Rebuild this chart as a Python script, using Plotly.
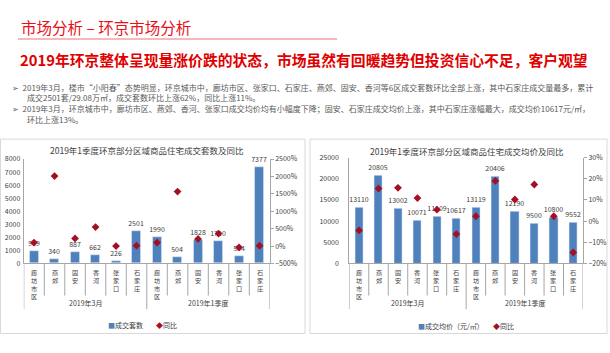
import plotly.graph_objects as go

W, H = 610, 353

# ---------------- data ----------------
groups = ["2019年3月", "2019年1季度"]
districts = ["廊坊市区", "燕郊", "固安", "香河", "张家口", "石家庄"]
categories = districts + districts

deal_units = [969, 340, 887, 662, 226, 2501, 1990, 504, 1828, 1710, 564, 7377]
units_yoy = [100, 2010, 220, 545, 0, 11, 100, 1565, 205, 360, -35, 9]

avg_price = [13110, 20805, 13002, 10071, 11109, 10617, 13119, 20406, 12190, 9500, 10800, 9552]
price_yoy = [-4.4, 15.4, 15.7, 10.9, 5.4, -6.1, 2.3, 19.0, 10.2, 17.3, 2.3, -14.8]

page_title = "市场分析 – 环京市场分析"
headline = "2019年环京整体呈现量涨价跌的状态，市场虽然有回暖趋势但投资信心不足，客户观望"
bullets = [
    "➢  2019年3月，楼市“小阳春”态势明显，环京城市中，廊坊市区、张家口、石家庄、燕郊、固安、香河等6区成交套数环比全部上涨，其中石家庄成交量最多，累计",
    "成交2501套/29.08万㎡，成交套数环比上涨62%，同比上涨11%。",
    "➢  2019年3月，环京城市中，廊坊市区、燕郊、香河、张家口成交均价均有小幅度下降；固安、石家庄成交均价上涨，其中石家庄涨幅最大，成交均价10617元/㎡，",
    "环比上涨13%。",
]
chart1_title = "2019年1季度环京部分区域商品住宅成交套数及同比"
chart2_title = "2019年1季度环京部分区域商品住宅成交均价及同比"
legend1 = ["成交套数", "同比"]
legend2 = ["成交均价（元/㎡）", "同比"]

# ---------------- styling ----------------
FONT = "Noto Sans CJK SC"
BAR = "#4F81BD"
DOT = "#A50F24"
TXT = "#404040"
AX = "#A6A6A6"
RED = "#E8101A"


def px(x):
    return x / W


def py(y):
    return 1 - y / H


xs = list(range(len(categories)))

fig = go.Figure()

# left chart
fig.add_trace(go.Bar(x=xs, y=deal_units, width=0.42, marker_color=BAR,
                     text=[str(v) for v in deal_units], textposition="outside", constraintext="none",
                     textfont=dict(size=7, color=TXT, family=FONT), cliponaxis=False,
                     xaxis="x", yaxis="y", showlegend=False))
fig.add_trace(go.Scatter(x=xs, y=units_yoy, mode="markers",
                         marker=dict(symbol="diamond", size=6, color=DOT),
                         xaxis="x", yaxis="y2", showlegend=False, cliponaxis=False))
# right chart
fig.add_trace(go.Bar(x=xs, y=avg_price, width=0.42, marker_color=BAR,
                     text=[str(v) for v in avg_price], textposition="outside", constraintext="none",
                     textfont=dict(size=7, color=TXT, family=FONT), cliponaxis=False,
                     xaxis="x2", yaxis="y3", showlegend=False))
fig.add_trace(go.Scatter(x=xs, y=price_yoy, mode="markers",
                         marker=dict(symbol="diamond", size=6, color=DOT),
                         xaxis="x2", yaxis="y4", showlegend=False, cliponaxis=False))

n = len(categories)
axfont = dict(size=7, color=TXT, family=FONT)
common_x = dict(range=[-0.5, n - 0.5], showticklabels=False, showgrid=False, zeroline=False,
                showline=True, linecolor=AX, linewidth=1, ticks="", fixedrange=True)
common_y = dict(showgrid=False, zeroline=False, showline=True, linecolor=AX, linewidth=1,
                tickfont=axfont, fixedrange=True, tickformat="d")

L_top, R_top, bot = 157.5, 156.0, 265.0
fig.update_layout(
    width=W, height=H, autosize=False,
    margin=dict(l=0, r=0, t=0, b=0),
    paper_bgcolor="white", plot_bgcolor="rgba(0,0,0,0)",
    font=dict(family=FONT, color=TXT),
    bargap=0,
    xaxis=dict(domain=[px(23.8), px(269.8)], anchor="y", **common_x),
    yaxis=dict(domain=[py(bot), py(L_top)], anchor="x", range=[0, 8000], dtick=1000,
               ticks="", ticklabelstandoff=1, **common_y),
    yaxis2=dict(overlaying="y", side="right", anchor="x", range=[-500, 2500], dtick=500,
                ticksuffix="%", ticks="outside", ticklen=3, tickcolor=AX, **common_y),
    xaxis2=dict(domain=[px(349.3), px(583)], anchor="y3", **common_x),
    yaxis3=dict(domain=[py(bot), py(R_top)], anchor="x2", range=[0, 25000], dtick=5000,
                ticks="", ticklabelstandoff=8, **common_y),
    yaxis4=dict(overlaying="y3", side="right", anchor="x2", range=[-20, 30], dtick=10,
                ticksuffix="%", ticks="outside", ticklen=3, tickcolor=AX, **common_y),
)

shapes = []
annotations = []

# panel borders
shapes.append(dict(type="rect", xref="paper", yref="paper", x0=px(0.5), x1=px(305), y0=py(337), y1=py(137),
                   line=dict(color="#D9D9D9", width=1), layer="below"))
shapes.append(dict(type="rect", xref="paper", yref="paper", x0=px(310), x1=px(607), y0=py(337), y1=py(137),
                   line=dict(color="#D9D9D9", width=1), layer="below"))

# title underline
shapes.append(dict(type="line", xref="paper", yref="paper", x0=px(18), x1=px(337), y0=py(34), y1=py(34),
                   line=dict(color="#F2A0A0", width=1.5)))

annotations.append(dict(xref="paper", yref="paper", x=px(19), y=py(22), xanchor="left", yanchor="middle",
                        text=page_title, showarrow=False, font=dict(size=15.5, color=RED, family=FONT)))
annotations.append(dict(xref="paper", yref="paper", x=px(18), y=py(55), xanchor="left", yanchor="middle",
                        text="<b>" + headline + "</b>", showarrow=False,
                        font=dict(size=14.8, color="#E00000", family=FONT)))

bullet_pos = [(10, 83.5), (25, 94.5), (10, 105.5), (25, 116.5)]
for (bx, by), t in zip(bullet_pos, bullets):
    annotations.append(dict(xref="paper", yref="paper", x=px(bx), y=py(by), xanchor="left", yanchor="middle",
                            text=t, showarrow=False, font=dict(size=8.0, color="#595959", family=FONT)))

# chart titles
annotations.append(dict(xref="paper", yref="paper", x=px(147), y=py(148.5), xanchor="center", yanchor="middle",
                        text=chart1_title, showarrow=False, font=dict(size=8.5, color=TXT, family=FONT)))
annotations.append(dict(xref="paper", yref="paper", x=px(467), y=py(149), xanchor="center", yanchor="middle",
                        text=chart2_title, showarrow=False, font=dict(size=8.5, color=TXT, family=FONT)))

# category axes (two-level, Excel style)
per_group = len(districts)
for xa in ["x", "x2"]:
    for i, name in enumerate(categories):
        annotations.append(dict(xref=xa, yref="paper", x=i, y=py(268.5), xanchor="center",
                                yanchor="top", text="<br>".join(name), showarrow=False, borderpad=0,
                                font=dict(size=6.2, color=TXT, family=FONT)))
    for g, gname in enumerate(groups):
        annotations.append(dict(xref=xa, yref="paper", x=g * per_group + (per_group - 1) / 2, y=py(305.5),
                                xanchor="center", yanchor="middle", text=gname, showarrow=False,
                                font=dict(size=7, color=TXT, family=FONT)))
    for k in range(n + 1):
        b = k - 0.5
        long_ = (k % per_group == 0)
        shapes.append(dict(type="line", xref=xa, yref="paper", x0=b, x1=b, y0=py(bot),
                           y1=py(312 if long_ else 298), line=dict(color=AX, width=1)))


# legends
def legend(x_bar, x_dot, y0, labels):
    bar_lab, dot_lab = labels
    annotations.append(dict(xref="paper", yref="paper", x=px(x_bar), y=py(y0), xanchor="left", yanchor="middle",
                            text=f'<span style="color:{BAR}">■</span>{bar_lab}', showarrow=False,
                            font=dict(size=7, color=TXT, family=FONT)))
    annotations.append(dict(xref="paper", yref="paper", x=px(x_dot), y=py(y0), xanchor="left", yanchor="middle",
                            text=f'<span style="color:{DOT}">◆</span>{dot_lab}', showarrow=False,
                            font=dict(size=7, color=TXT, family=FONT)))


legend(106, 154, 328, legend1)
legend(416, 491, 329, legend2)

fig.update_layout(shapes=shapes, annotations=annotations)
fig.write_html("out.html")
